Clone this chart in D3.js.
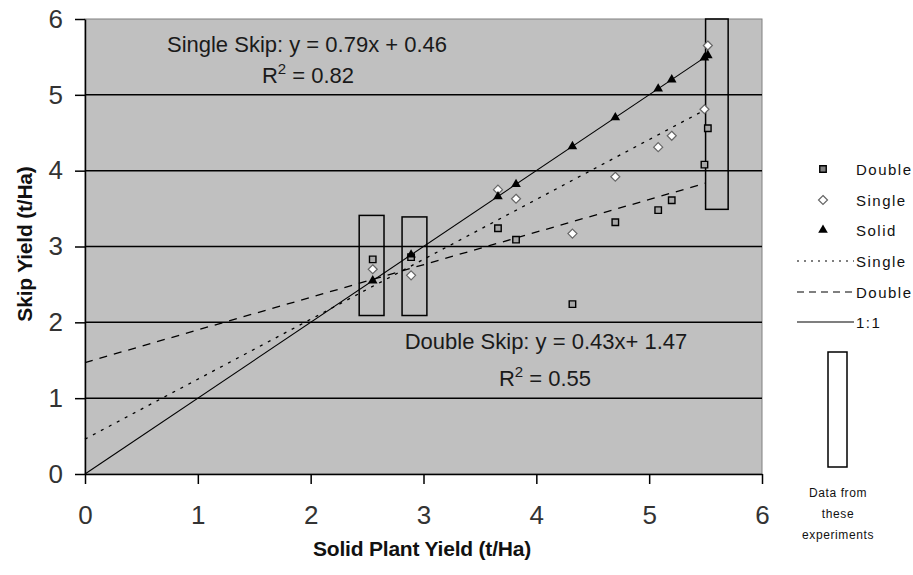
<!DOCTYPE html>
<html>
<head>
<meta charset="utf-8">
<script src="https://cdn.jsdelivr.net/npm/d3@7"></script>
<style>
  body { margin: 0; background: #fff; }
  text { font-family: "Liberation Sans", Arial, sans-serif; }
</style>
</head>
<body>
<script>
// solid plant yield (x) for each site, and the skip yields
var solidYield = [2.55, 2.89, 3.66, 3.82, 4.32, 4.70, 5.08, 5.20, 5.49, 5.52];
var doubleSkip = [2.83, 2.86, 3.24, 3.09, 2.24, 3.32, 3.48, 3.61, 4.08, 4.56];
var singleSkip = [2.70, 2.62, 3.75, 3.63, 3.17, 3.92, 4.31, 4.46, 4.81, 5.65];

// regression fits
var singleFit = { slope: 0.79, icpt: 0.46 };
var doubleFit = { slope: 0.43, icpt: 1.47 };
var fitRange = [0, 5.5];

// boxes around the data from these experiments [x0, x1, y0, y1]
var boxes = [[2.43, 2.65, 2.09, 3.41], [2.81, 3.03, 2.09, 3.39], [5.50, 5.70, 3.49, 6.0]];

var xTicks = [0, 1, 2, 3, 4, 5, 6];
var yTicks = [0, 1, 2, 3, 4, 5, 6];

var svg = d3.select("body").append("svg").attr("width", 913).attr("height", 575);

var x = d3.scaleLinear().domain([0, 6]).range([85, 762]);
var y = d3.scaleLinear().domain([0, 6]).range([474, 19]);

// plot area
svg.append("rect")
  .attr("x", x(0)).attr("y", y(6))
  .attr("width", x(6) - x(0)).attr("height", y(0) - y(6))
  .style("fill", "#c0c0c0")
  .style("stroke", "#808080");

// gridlines
svg.selectAll(".grid").data(yTicks.slice(1, 6)).enter().append("line")
  .attr("x1", x(0)).attr("x2", x(6))
  .attr("y1", function(d) { return y(d); }).attr("y2", function(d) { return y(d); })
  .attr("stroke", "#000").attr("stroke-width", 1.5);

// axes
var yAxis = svg.append("g").attr("transform", "translate(" + x(0) + ",0)")
  .call(d3.axisLeft(y).tickValues(yTicks).tickFormat(d3.format("d")).tickSize(10).tickSizeOuter(0).tickPadding(12));
var xAxis = svg.append("g").attr("transform", "translate(0," + y(0) + ")")
  .call(d3.axisBottom(x).tickValues(xTicks).tickFormat(d3.format("d")).tickSize(10).tickSizeOuter(0).tickPadding(22));
[xAxis, yAxis].forEach(function(a) {
  a.select(".domain").attr("stroke", "#000").attr("stroke-width", 1.5);
  a.selectAll(".tick line").attr("stroke", "#000").attr("stroke-width", 1.5);
  a.selectAll(".tick text").style("font-size", "26px").style("font-family", "Liberation Sans, Arial, sans-serif").attr("fill", "#333");
});

// trend lines
function fitLine(fit) {
  return fitRange.map(function(v) { return [v, fit.slope * v + fit.icpt]; });
}
var line = d3.line().x(function(d) { return x(d[0]); }).y(function(d) { return y(d[1]); });

svg.append("path").datum(fitLine(singleFit)).attr("d", line)
  .attr("fill", "none").attr("stroke", "#000").attr("stroke-width", 1.3).attr("stroke-dasharray", "3,6");
svg.append("path").datum(fitLine(doubleFit)).attr("d", line)
  .attr("fill", "none").attr("stroke", "#000").attr("stroke-width", 1.3).attr("stroke-dasharray", "8,7");
svg.append("path").datum([[0, 0], [5.5, 5.5]]).attr("d", line)
  .attr("fill", "none").attr("stroke", "#000").attr("stroke-width", 1.1);

// boxes
svg.selectAll(".box").data(boxes).enter().append("rect")
  .attr("x", function(d) { return x(d[0]); })
  .attr("y", function(d) { return y(d[3]); })
  .attr("width", function(d) { return x(d[1]) - x(d[0]); })
  .attr("height", function(d) { return y(d[2]) - y(d[3]); })
  .style("fill", "none").style("stroke", "#000").style("stroke-width", 1.5);

// markers
var sq = d3.symbol().type(d3.symbolSquare).size(42);
var diamondType = {
  draw: function(ctx, size) {
    var r = Math.sqrt(size) / 2;
    ctx.moveTo(0, -r); ctx.lineTo(r, 0); ctx.lineTo(0, r); ctx.lineTo(-r, 0); ctx.closePath();
  }
};
var dia = d3.symbol().type(diamondType).size(81);
var tri = d3.symbol().type(d3.symbolTriangle).size(40);

svg.selectAll(".dbl").data(solidYield).enter().append("path")
  .attr("d", sq)
  .attr("transform", function(d, i) { return "translate(" + x(d) + "," + y(doubleSkip[i]) + ")"; })
  .style("fill", "#a8a8a8").style("stroke", "#000").style("stroke-width", 1.4);
svg.selectAll(".sgl").data(solidYield).enter().append("path")
  .attr("d", dia)
  .attr("transform", function(d, i) { return "translate(" + x(d) + "," + y(singleSkip[i]) + ")"; })
  .style("fill", "#fff").style("stroke", "#666").style("stroke-width", 1.2);
svg.selectAll(".sld").data(solidYield).enter().append("path")
  .attr("d", tri)
  .attr("transform", function(d) { return "translate(" + x(d) + "," + y(d) + ")"; })
  .style("fill", "#000");

// equations
function eq(cx, cy, t) {
  svg.append("text").attr("x", cx).attr("y", cy).attr("text-anchor", "middle")
    .style("font-size", "22px").attr("fill", "#1a1a1a").text(t);
}
function r2(cx, cy, v) {
  var t = svg.append("text").attr("x", cx).attr("y", cy).attr("text-anchor", "middle")
    .style("font-size", "22px").attr("fill", "#1a1a1a");
  t.append("tspan").text("R");
  t.append("tspan").attr("dy", -9).style("font-size", "15px").text("2");
  t.append("tspan").attr("dy", 9).text(" = " + v);
}
eq(307, 52, "Single Skip: y = 0.79x + 0.46");
r2(308, 83, "0.82");
eq(546, 349, "Double Skip: y = 0.43x+ 1.47");
r2(545, 386, "0.55");

// axis titles
svg.append("text").attr("x", 422).attr("y", 556).attr("text-anchor", "middle")
  .style("font-size", "21px").style("font-weight", "bold").style("letter-spacing", "-0.2px")
  .attr("fill", "#111").text("Solid Plant Yield (t/Ha)");
svg.append("text").attr("transform", "translate(32,244) rotate(-90)").attr("text-anchor", "middle")
  .style("font-size", "21px").style("font-weight", "bold").style("letter-spacing", "-0.2px")
  .attr("fill", "#111").text("Skip Yield (t/Ha)");

// legend
var lg = svg.append("g");
var lgText = ["Double", "Single", "Solid", "Single", "Double", "1:1"];
var lgY = [169, 200, 230, 261, 292, 322];
lg.selectAll("text").data(lgText).enter().append("text")
  .attr("x", 856).attr("y", function(d, i) { return lgY[i] + 6; })
  .style("font-size", "15px").style("letter-spacing", "1.5px").attr("fill", "#111").text(function(d) { return d; });
lg.append("path").attr("d", sq).attr("transform", "translate(823," + lgY[0] + ")")
  .style("fill", "#808080").style("stroke", "#000").style("stroke-width", 1.4);
lg.append("path").attr("d", dia).attr("transform", "translate(823," + lgY[1] + ")")
  .style("fill", "#fff").style("stroke", "#666").style("stroke-width", 1.2);
lg.append("path").attr("d", tri).attr("transform", "translate(823," + lgY[2] + ")")
  .style("fill", "#000");
var lgDash = ["2,5", "7,5", null];
lgDash.forEach(function(ds, i) {
  var l = lg.append("line").attr("x1", 797).attr("x2", 854)
    .attr("y1", lgY[3 + i]).attr("y2", lgY[3 + i])
    .attr("stroke", "#000").attr("stroke-width", 1.2);
  if (ds) l.attr("stroke-dasharray", ds);
});
lg.append("rect").attr("x", 828).attr("y", 352).attr("width", 19).attr("height", 115)
  .style("fill", "#fff").style("stroke", "#000").style("stroke-width", 1.5);
["Data from", "these", "experiments"].forEach(function(t, i) {
  lg.append("text").attr("x", 838).attr("y", 497 + i * 21).attr("text-anchor", "middle")
    .style("font-size", "12px").style("letter-spacing", "0.6px").attr("fill", "#111").text(t);
});
</script>
</body>
</html>
